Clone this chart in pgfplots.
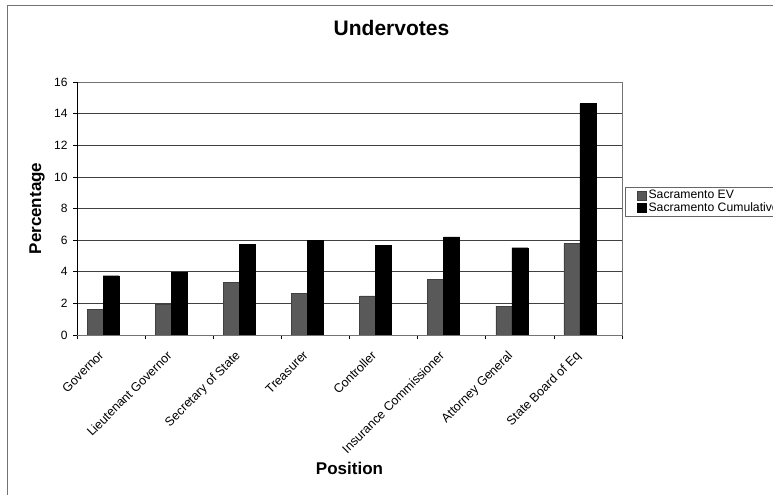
\documentclass[border=0pt]{standalone}
\usepackage{fontspec}
\setmainfont{Liberation Sans}
\usepackage{pgfplots}
\pgfplotsset{compat=1.18}
\begin{document}
\begin{tikzpicture}[x=1pt,y=1pt]
\path[use as bounding box] (0,0) rectangle (773,495);
\draw[black!55, line width=0.8pt] (7,0) -- (7,489.5) -- (773,489.5);
\begin{axis}[
  at={(77pt,160pt)}, anchor=south west,
  scale only axis, width=545pt, height=253pt,
  xmin=-0.5, xmax=7.5, ymin=0, ymax=16,
  ytick={0,2,...,16},
  xtick={0,...,7},
  xticklabels={Governor, Lieutenant Governor, Secretary of State, Treasurer, Controller, Insurance Commissioner, Attorney General, State Board of Eq},
  minor xtick={-0.5,0.5,...,7.5},
  major x tick style={draw=none},
  tick pos=left,
  tick align=outside,
  major tick length=4pt, minor tick length=4pt,
  tick style={black, line width=0.6pt},
  ymajorgrids, grid style={black!75, line width=0.6pt},
  axis line style={black!55, line width=0.6pt},
  /pgf/number format/assume math mode=true,
  yticklabel style={font=\fontsize{12}{14}\selectfont, xshift=-2pt},
  xticklabel style={font=\fontsize{12.5}{14}\selectfont, anchor=north east, xshift=-13pt, yshift=-6pt, rotate=45},
  title={Undervotes},
  title style={font=\bfseries\fontsize{21}{24}\selectfont, at={(axis description cs:0.5,1)}, anchor=base, xshift=42pt, yshift=40.3pt},
  xlabel={Position},
  xlabel style={font=\bfseries\fontsize{17}{20}\selectfont, at={(axis description cs:0.5,0)}, anchor=base, yshift=-139pt},
  ylabel={Percentage},
  ylabel style={font=\bfseries\fontsize{17}{20}\selectfont, at={(axis description cs:-0.066,0.5)}, anchor=base},
  legend style={at={(1.0055,0.585)}, anchor=north west, draw=black!60, font=\fontsize{12.2}{13}\selectfont, inner xsep=0pt, inner ysep=1pt, row sep=-1.5pt, legend cell align=left},
  legend image code/.code={\path (0pt,0pt); \draw[#1] (12pt,-4.5pt) rectangle (21pt,4.5pt);},
]
\addplot[ybar, bar width=0.235, bar shift=-0.235, fill=black!65, draw=black!75] coordinates {
  (0,1.64) (1,1.94) (2,3.33) (3,2.63) (4,2.48) (5,3.54) (6,1.83) (7,5.79)};
\addlegendentry{\makebox[140pt][l]{Sacramento EV}}
\addplot[ybar, bar width=0.235, bar shift=0, fill=black, draw=black] coordinates {
  (0,3.75) (1,3.96) (2,5.73) (3,5.98) (4,5.66) (5,6.21) (6,5.52) (7,14.63)};
\addlegendentry{\makebox[140pt][l]{Sacramento Cumulative}}
\draw[black, line width=0.8pt] (axis cs:-0.5,16) -- (axis cs:-0.5,0) -- (axis cs:7.5,0);
\end{axis}
\end{tikzpicture}
\end{document}
